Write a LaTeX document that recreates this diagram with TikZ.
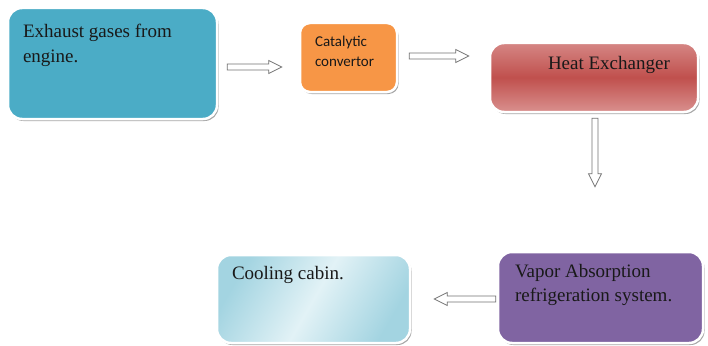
\documentclass[tikz,border=0pt]{standalone}
\usepackage{fontspec}
\setmainfont{Liberation Serif}
\newfontfamily\calibrifont{Carlito}
\usetikzlibrary{calc,shadows}

\definecolor{exhaustblue}{HTML}{4BACC6}
\definecolor{catorange}{HTML}{F79646}
\definecolor{heatred}{HTML}{C0504D}
\definecolor{heattop}{HTML}{D58684}
\definecolor{heatlow}{HTML}{D9908E}
\definecolor{vappurple}{HTML}{8064A2}
\definecolor{cabinedge}{HTML}{A3D4E1}
\definecolor{cabinlight}{HTML}{E2F2F6}

\tikzset{
  box/.style={rectangle, rounded corners=14pt, draw=white, line width=2.5pt,
    inner sep=0pt, text=black!90, font=\fontsize{19}{25}\selectfont,
    drop shadow={shadow xshift=1.5pt, shadow yshift=-2pt, opacity=0.35, fill=black}},
  fatarrow/.style={draw=black!55, fill=white, line width=0.7pt, line join=miter,
    to path={
      ($(\tikztotarget)!13pt!(\tikztostart)$) coordinate (hb)
      ($(\tikztostart)!3pt!90:(\tikztotarget)$)
      -- ($(hb)!3pt!-90:(\tikztostart)$)
      -- ($(hb)!6.5pt!-90:(\tikztostart)$)
      -- (\tikztotarget)
      -- ($(hb)!6.5pt!90:(\tikztostart)$)
      -- ($(hb)!3pt!90:(\tikztostart)$)
      -- ($(\tikztostart)!3pt!-90:(\tikztotarget)$)
      -- cycle}}
}

\begin{document}
\begin{tikzpicture}[x=1pt,y=-1pt]
  \useasboundingbox[fill=white] (0,0) rectangle (708,345);

  % the boxes
  \node[box, fill=exhaustblue, minimum width=209, minimum height=111]
    (exhaust) at (112.5,63.5)
    {\parbox[c][79pt][t]{179pt}{Exhaust gases from\\engine.}};
  \node[box, fill=catorange, rounded corners=10pt, minimum width=97, minimum height=69,
    font=\calibrifont\fontsize{15}{20}\selectfont]
    (cat) at (348.5,57.5)
    {\parbox[c][42pt][t]{67pt}{Catalytic\\convertor}};
  \node[box, top color=heattop, bottom color=heatlow, middle color=heatred,
    minimum width=208, minimum height=69]
    (heat) at (594,77.5)
    {\parbox[c][43pt][t]{180pt}{\hspace*{44pt}Heat Exchanger}};
  \node[box, fill=vappurple, minimum width=205, minimum height=91,
    font=\fontsize{19}{24}\selectfont]
    (vapor) at (600.5,297.5)
    {\parbox[c][66pt][t]{171pt}{Vapor Absorption\\refrigeration system.}};
  \node[box, left color=cabinedge, right color=cabinedge, middle color=cabinlight,
    shading angle=60, minimum width=193, minimum height=88]
    (cooling) at (313.5,299)
    {\parbox[c][66pt][t]{163pt}{Cooling cabin.}};

  % the arrows
  \draw[fatarrow] ([shift={(9,3.5)}]exhaust.east) to ([shift={(-17,9.5)}]cat.west);
  \draw[fatarrow] ([shift={(11,-1.5)}]cat.east) to ([shift={(-20,-21.5)}]heat.west);
  \draw[fatarrow] ([shift={(1,5)}]heat.south) to ([shift={(-5.5,-64)}]vapor.north);
  \draw[fatarrow] ([shift={(-1,1.5)}]vapor.west) to ([shift={(23,0)}]cooling.east);
\end{tikzpicture}
\end{document}
